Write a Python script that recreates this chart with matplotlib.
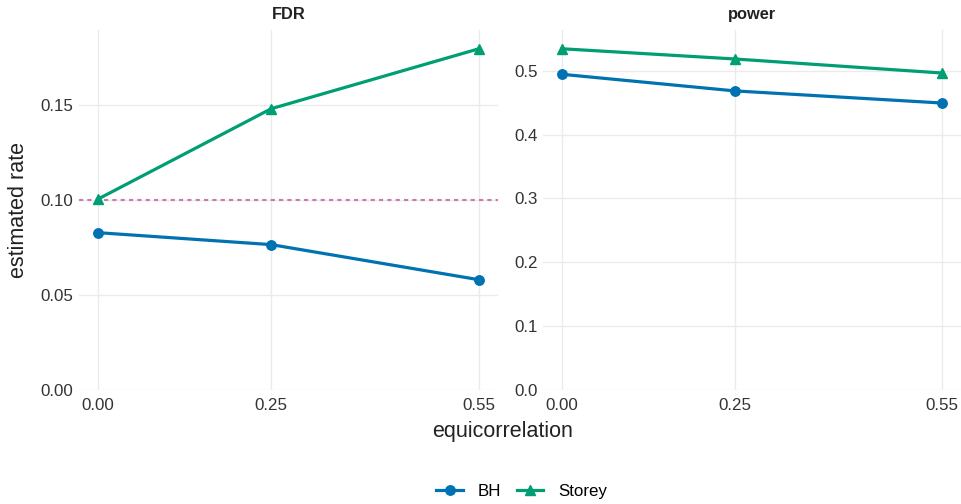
"""FDR and power of BH vs Storey across equicorrelation levels"""
import matplotlib
matplotlib.use("Agg")
import matplotlib.pyplot as plt
from matplotlib.lines import Line2D

plt.rcParams["font.family"] = ["Liberation Sans", "DejaVu Sans"]

equicorrelation = [0.00, 0.25, 0.55]
methods = ["BH", "Storey"]
fdr_bh = [0.0829, 0.0766, 0.0581]
fdr_storey = [0.1006, 0.1482, 0.1798]
power_bh = [0.4945, 0.4685, 0.4495]
power_storey = [0.5345, 0.5185, 0.4965]
target_fdr = 0.1
panel_titles = ["FDR", "power"]

colors = {"BH": "#0072B2", "Storey": "#009E73"}
markers = {"BH": "o", "Storey": "^"}
grid_color = "#EBEBEB"
text_color = "#222222"

fig = plt.figure(figsize=(9.61, 5.04), dpi=100)
ax_fdr = fig.add_axes([0.0822, 0.2262, 0.4360, 0.7143])
ax_pow = fig.add_axes([0.5650, 0.2262, 0.4350, 0.7143])

panel_data = [
    (ax_fdr, {"BH": fdr_bh, "Storey": fdr_storey}, [0.00, 0.05, 0.10, 0.15], "{:.2f}"),
    (ax_pow, {"BH": power_bh, "Storey": power_storey}, [0.0, 0.1, 0.2, 0.3, 0.4, 0.5], "{:.1f}"),
]

for (ax, series, yticks, fmt), title in zip(panel_data, panel_titles):
    ymax = max(max(v) for v in series.values())
    if ax is ax_fdr:
        ax.axhline(target_fdr, color="#CC79A7", lw=1.5, ls=(0, (2, 2)), zorder=2)
    for m in methods:
        ax.plot(equicorrelation, series[m], color=colors[m], lw=2.3,
                marker=markers[m], markersize=6.8, zorder=3)
    ax.set_xlim(-0.0275, 0.5775)
    ax.set_ylim(0, ymax * 1.055)
    ax.set_xticks(equicorrelation)
    ax.set_xticklabels(["{:.2f}".format(x) for x in equicorrelation])
    ax.set_yticks(yticks)
    ax.set_yticklabels([fmt.format(y) for y in yticks])
    ax.grid(True, color=grid_color, lw=1.0)
    ax.set_axisbelow(True)
    for s in ax.spines.values():
        s.set_visible(False)
    ax.tick_params(length=0, labelsize=12.2, colors="#333333", pad=4)
    ax.tick_params(axis="x", pad=6)
    ax.set_title(title, fontsize=11.8, fontweight="bold", color=text_color, pad=8)

ax_fdr.set_ylabel("estimated rate", fontsize=15.5, color=text_color, labelpad=8)
fig.text(0.5225, 0.143, "equicorrelation", fontsize=15.5, color=text_color,
         ha="center", va="center")

handles = [Line2D([0], [0], color=colors[m], lw=2.3, marker=markers[m],
                  markersize=6.8) for m in methods]
fig.legend(handles, methods, loc="center", bbox_to_anchor=(0.543, 0.024),
           ncol=2, frameon=False, fontsize=12.2, handlelength=1.55,
           columnspacing=0.9, handletextpad=0.9)

fig.savefig("out.png", dpi=100)
